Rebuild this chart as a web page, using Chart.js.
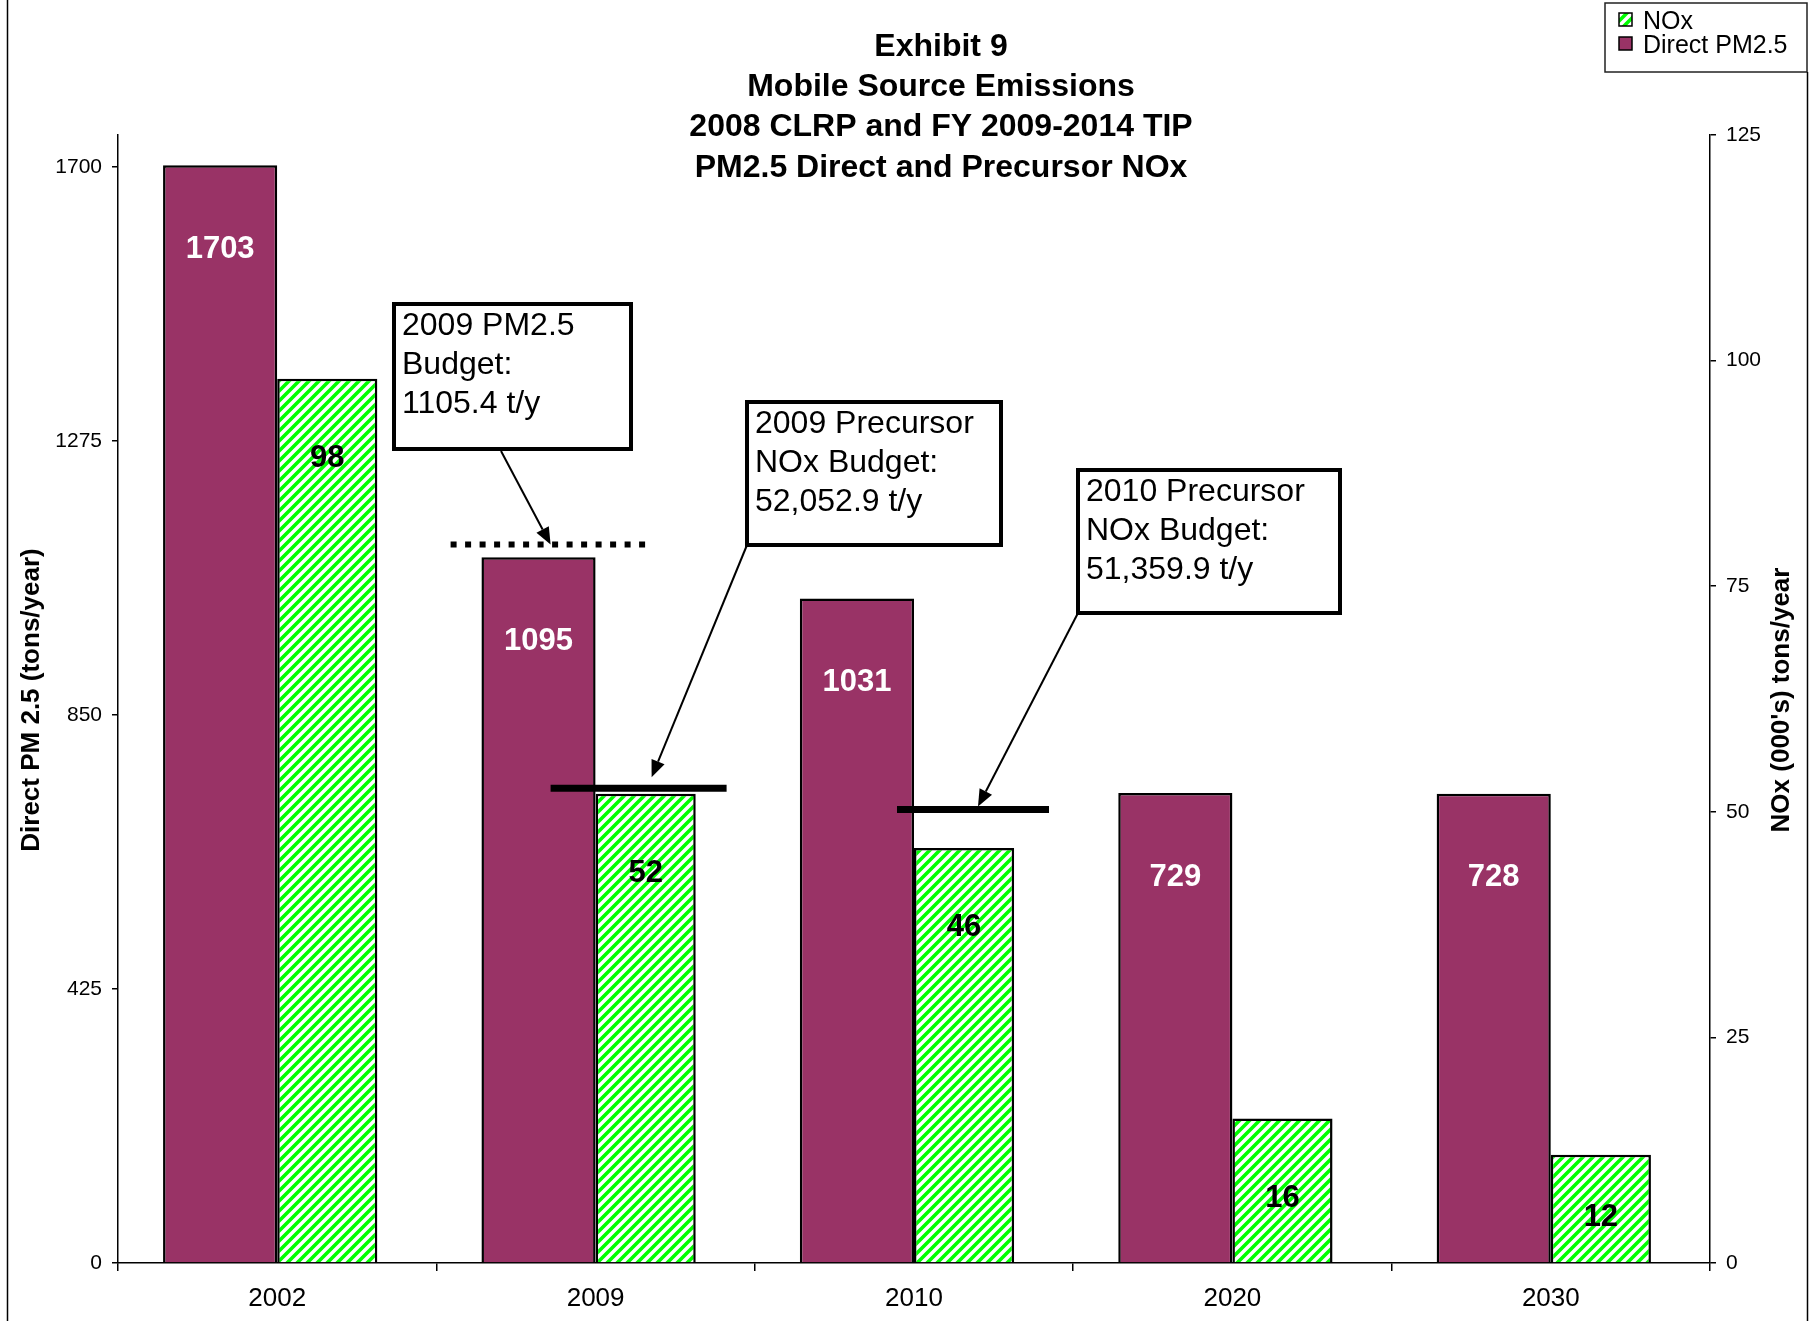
<!DOCTYPE html>
<html>
<head>
<meta charset="utf-8">
<title>Exhibit 9 - Mobile Source Emissions</title>
<script src="https://cdn.jsdelivr.net/npm/chart.js@4.4.0/dist/chart.umd.min.js"></script>
<style>
  html, body { margin: 0; padding: 0; background: #fff; }
  #wrap { width: 1815px; height: 1321px; }
</style>
</head>
<body>
<div id="wrap"><canvas id="emChart" width="1815" height="1321"></canvas></div>
<script>
var years = ['2002', '2009', '2010', '2020', '2030'];
var pmValues = [1703, 1095, 1031, 729, 728];
var noxValues = [98, 52, 46, 16, 12];
var pmTicks = [0, 425, 850, 1275, 1700];
var noxTicks = [0, 25, 50, 75, 100, 125];
var pmBudget2009 = 1105.4;
var noxBudget2009 = 52.0529;
var noxBudget2010 = 51.3599;

var FONT = '"Liberation Sans", Arial, sans-serif';
var PLUM = '#993366';

// green "wide upward diagonal" fill
function hatch() {
    var c = document.createElement('canvas');
    c.width = 10; c.height = 10;
    var g = c.getContext('2d');
    g.fillStyle = '#fff';
    g.fillRect(0, 0, 10, 10);
    g.strokeStyle = '#00ff00';
    g.lineWidth = 3.6;
    g.beginPath();
    g.moveTo(-5, 5); g.lineTo(5, -5);
    g.moveTo(0, 10); g.lineTo(10, 0);
    g.moveTo(5, 15); g.lineTo(15, 5);
    g.stroke();
    return g.createPattern(c, 'repeat');
}
var noxFill = hatch();

// callout boxes (pixel boxes, arrow tips tied to the scales)
var callouts = [
    { box: [394, 304, 631, 449], lines: ['2009 PM2.5', 'Budget:', '1105.4 t/y'],
      from: [501, 451], cat: 1, dx: -45, axis: 'y', val: pmBudget2009, dy: -6 },
    { box: [747, 402, 1001, 545], lines: ['2009 Precursor', 'NOx Budget:', '52,052.9 t/y'],
      from: [747, 545], cat: 1, dx: 56, axis: 'y1', val: noxBudget2009, dy: -16 },
    { box: [1078, 470, 1340, 613], lines: ['2010 Precursor', 'NOx Budget:', '51,359.9 t/y'],
      from: [1078, 613], cat: 2, dx: 64, axis: 'y1', val: noxBudget2010, dy: 7 }
];

function arrow(ctx, x1, y1, x2, y2) {
    var a = Math.atan2(y2 - y1, x2 - x1), L = 17, W = 7;
    var bx = x2 - L * Math.cos(a), by = y2 - L * Math.sin(a);
    ctx.lineWidth = 2;
    ctx.beginPath();
    ctx.moveTo(x1, y1);
    ctx.lineTo(bx, by);
    ctx.stroke();
    ctx.beginPath();
    ctx.moveTo(x2, y2);
    ctx.lineTo(bx + W * Math.sin(a), by - W * Math.cos(a));
    ctx.lineTo(bx - W * Math.sin(a), by + W * Math.cos(a));
    ctx.closePath();
    ctx.fill();
}

var overlay = {
    id: 'overlay',
    afterDatasetsDraw: function (chart) {
        var ctx = chart.ctx;
        var xs = chart.scales.x, ys = chart.scales.y, ns = chart.scales.y1;
        ctx.save();

        // value labels
        ctx.font = 'bold 31px ' + FONT;
        ctx.textAlign = 'center';
        ctx.textBaseline = 'middle';
        chart.getDatasetMeta(0).data.forEach(function (bar, i) {
            ctx.fillStyle = '#fff';
            ctx.fillText(pmValues[i], bar.x, bar.y + 84);
        });
        chart.getDatasetMeta(1).data.forEach(function (bar, i) {
            ctx.fillStyle = '#000';
            ctx.fillText(noxValues[i], bar.x, Math.min(bar.y + 80, bar.base - 45));
        });

        // budget lines
        ctx.strokeStyle = '#000';
        var c1 = xs.getPixelForValue(1), c2 = xs.getPixelForValue(2);
        var yPm = ys.getPixelForValue(pmBudget2009) - 6;
        ctx.setLineDash([6, 8.5]);
        ctx.lineWidth = 6;
        ctx.beginPath(); ctx.moveTo(c1 - 145, yPm); ctx.lineTo(c1 + 58, yPm); ctx.stroke();
        ctx.setLineDash([]);
        ctx.lineWidth = 7;
        var yN1 = ns.getPixelForValue(noxBudget2009) - 5;
        ctx.beginPath(); ctx.moveTo(c1 - 45, yN1); ctx.lineTo(c1 + 131, yN1); ctx.stroke();
        var yN2 = ns.getPixelForValue(noxBudget2010) + 10;
        ctx.beginPath(); ctx.moveTo(c2 - 17, yN2); ctx.lineTo(c2 + 135, yN2); ctx.stroke();

        // callouts
        ctx.fillStyle = '#000';
        callouts.forEach(function (co) {
            var sc = chart.scales[co.axis];
            arrow(ctx, co.from[0], co.from[1],
                xs.getPixelForValue(co.cat) + co.dx, sc.getPixelForValue(co.val) + co.dy);
        });
        callouts.forEach(function (co) {
            var b = co.box;
            ctx.fillStyle = '#fff';
            ctx.fillRect(b[0], b[1], b[2] - b[0], b[3] - b[1]);
            ctx.lineWidth = 4;
            ctx.strokeStyle = '#000';
            ctx.strokeRect(b[0], b[1], b[2] - b[0], b[3] - b[1]);
            ctx.fillStyle = '#000';
            ctx.font = '32px ' + FONT;
            ctx.textAlign = 'left';
            ctx.textBaseline = 'alphabetic';
            co.lines.forEach(function (t, i) {
                ctx.fillText(t, b[0] + 8, b[1] + 31 + 39 * i);
            });
        });
        ctx.restore();
    },
    afterDraw: function (chart) {
        var ctx = chart.ctx;
        ctx.save();

        // title
        ctx.fillStyle = '#000';
        ctx.font = 'bold 32px ' + FONT;
        ctx.textAlign = 'center';
        ctx.textBaseline = 'middle';
        ['Exhibit 9', 'Mobile Source Emissions', '2008 CLRP and FY 2009-2014 TIP',
         'PM2.5 Direct and Precursor NOx'].forEach(function (t, i) {
            ctx.fillText(t, 941, 47 + 40.3 * i);
        });

        // axis titles
        ctx.font = 'bold 26px ' + FONT;
        [[32, 'Direct PM 2.5 (tons/year)'], [1782, "NOx (000's) tons/year"]].forEach(function (a) {
            ctx.save();
            ctx.translate(a[0], 700);
            ctx.rotate(-Math.PI / 2);
            ctx.fillText(a[1], 0, 0);
            ctx.restore();
        });

        // legend
        ctx.lineWidth = 1.5;
        ctx.strokeStyle = '#222';
        ctx.strokeRect(1605, 3, 202, 69);
        ctx.strokeStyle = '#000';
        ctx.fillStyle = noxFill;
        ctx.fillRect(1619, 13, 13, 13);
        ctx.strokeRect(1619, 13, 13, 13);
        ctx.fillStyle = PLUM;
        ctx.fillRect(1619, 37, 13, 13);
        ctx.strokeRect(1619, 37, 13, 13);
        ctx.fillStyle = '#000';
        ctx.font = '25px ' + FONT;
        ctx.textAlign = 'left';
        ctx.textBaseline = 'alphabetic';
        ctx.fillText('NOx', 1643, 29);
        ctx.fillText('Direct PM2.5', 1643, 53);

        // frame
        ctx.lineWidth = 1.5;
        ctx.beginPath();
        ctx.moveTo(7.5, 0); ctx.lineTo(7.5, 1321);
        ctx.moveTo(1807.5, 72); ctx.lineTo(1807.5, 1321);
        ctx.stroke();
        ctx.restore();
    }
};

function plain(v) { return String(v); }

var emChart = new Chart(document.getElementById('emChart').getContext('2d'), {
    type: 'bar',
    data: {
        labels: years,
        datasets: [{
            label: 'Direct PM2.5',
            data: pmValues,
            yAxisID: 'y',
            backgroundColor: PLUM,
            borderColor: '#000',
            borderWidth: 2.5,
            categoryPercentage: 0.717,
            barPercentage: 1
        }, {
            label: 'NOx',
            data: noxValues,
            yAxisID: 'y1',
            backgroundColor: noxFill,
            borderColor: '#000',
            borderWidth: 2.5,
            categoryPercentage: 0.629,
            barPercentage: 1
        }]
    },
    options: {
        responsive: false,
        animation: false,
        layout: { padding: { top: 135, left: 0, right: 0, bottom: 0 } },
        plugins: {
            legend: { display: false },
            title: { display: false },
            tooltip: { enabled: false }
        },
        scales: {
            x: {
                offset: true,
                grid: { offset: true, drawOnChartArea: false, tickLength: 8, color: '#000', lineWidth: 1.5 },
                border: { color: '#000', width: 1.5 },
                ticks: { color: '#000', font: { family: FONT, size: 26 }, padding: 12, maxRotation: 0 },
                afterFit: function (s) { s.height = 58; }
            },
            y: {
                position: 'left',
                min: 0,
                max: 1750,
                grid: { drawOnChartArea: false, tickLength: 6, color: '#000', lineWidth: 1.5 },
                border: { color: '#000', width: 1.5 },
                ticks: { color: '#000', font: { family: FONT, size: 21 }, padding: 10, callback: plain },
                afterBuildTicks: function (s) { s.ticks = pmTicks.map(function (v) { return { value: v }; }); },
                afterFit: function (s) { s.width = 118; }
            },
            y1: {
                position: 'right',
                min: 0,
                max: 125,
                grid: { drawOnChartArea: false, tickLength: 6, color: '#000', lineWidth: 1.5 },
                border: { color: '#000', width: 1.5 },
                ticks: { color: '#000', font: { family: FONT, size: 21 }, padding: 10, callback: plain },
                afterBuildTicks: function (s) { s.ticks = noxTicks.map(function (v) { return { value: v }; }); },
                afterFit: function (s) { s.width = 105; }
            }
        }
    },
    plugins: [overlay]
});
</script>
</body>
</html>
